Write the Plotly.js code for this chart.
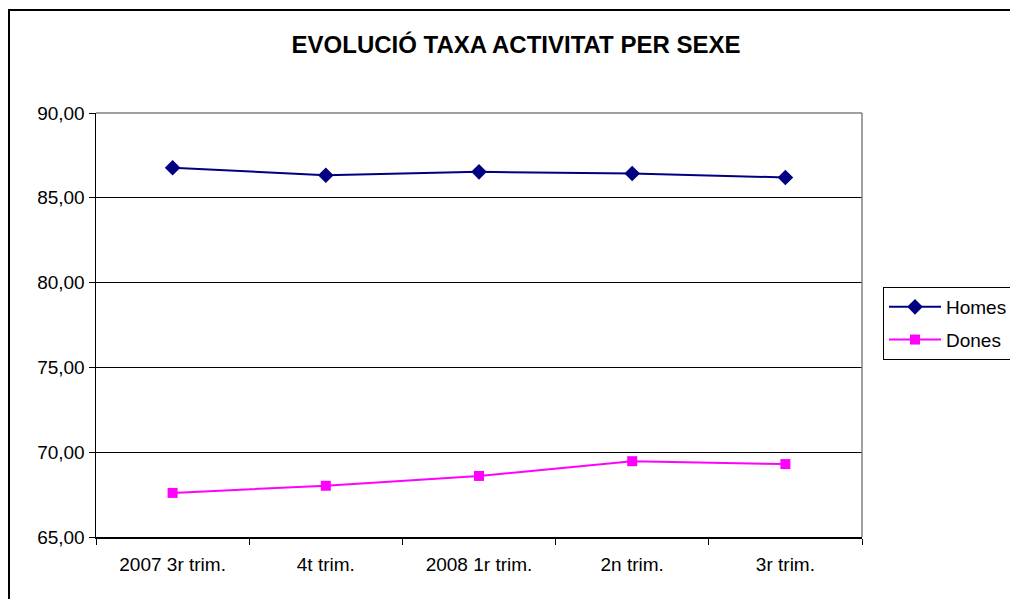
<!DOCTYPE html>
<html><head><meta charset="utf-8">
<script src="https://cdn.plot.ly/plotly-3.0.1.min.js"></script>
<style>html,body{margin:0;padding:0;background:#fff}#c{width:1010px;height:599px}</style>
</head><body><div id="c"></div>
<script>
const categories = ["2007 3r trim.", "4t trim.", "2008 1r trim.", "2n trim.", "3r trim."];
const homes = [86.77, 86.33, 86.53, 86.43, 86.20];
const dones = [67.60, 68.02, 68.60, 69.47, 69.30];
const yTicks = [65, 70, 75, 80, 85, 90];

const F = "Liberation Sans, Arial, sans-serif";
const traces = [
  {x: categories, y: homes, name: "Homes", legendgroup: "h", type: "scatter", mode: "lines+markers",
   line: {color: "#000080", width: 2}, marker: {symbol: "diamond", size: 12, color: "#000080"}},
  {x: categories, y: dones, name: "Dones", legendgroup: "d", type: "scatter", mode: "lines+markers",
   line: {color: "#FF00FF", width: 2}, marker: {symbol: "square", size: 10, color: "#FF00FF"}}
];
const L = 96, R = 862, T = 113, B = 537;
const W = R - L, H = B - T;
const px = v => (v - L) / W, py = v => (B - v) / H;
const layout = {
  width: 1010, height: 599,
  margin: {l: L, r: 1010 - R, t: T, b: 599 - B, autoexpand: false},
  paper_bgcolor: "#fff", plot_bgcolor: "#fff",
  separators: ",.",
  font: {family: F, size: 19, color: "#000"},
  title: {text: "<b>EVOLUCIÓ TAXA ACTIVITAT PER SEXE</b>", font: {family: F, size: 24, color: "#000"},
          x: px(516), xref: "paper", xanchor: "center", y: 1 - 45 / 599, yanchor: "middle"},
  xaxis: {type: "category", range: [-0.5, 4.5], tickson: "boundaries", ticks: "outside", ticklen: 6, tickcolor: "#000",
          showgrid: false, showline: true, linecolor: "#000", linewidth: 1.5, zeroline: false,
          ticklabelstandoff: 10,
          tickfont: {family: F, size: 19, color: "#000"}, fixedrange: true},
  yaxis: {range: [65, 90], tickvals: yTicks, tickformat: ".2f", ticks: "outside", ticklen: 6, tickcolor: "#000",
          showgrid: true, gridcolor: "#000", gridwidth: 1, showline: true, linecolor: "#000", linewidth: 1.5,
          zeroline: false, tickfont: {family: F, size: 19, color: "#000"}, fixedrange: true},
  showlegend: true,
  legend: {x: px(883), y: py(287), xanchor: "left", yanchor: "top", bordercolor: "#000", borderwidth: 1,
           font: {family: F, size: 19, color: "#000"}, bgcolor: "#fff", tracegroupgap: 5, itemwidth: 52,
           traceorder: "grouped"},
  shapes: [
    {type: "line", xref: "paper", yref: "paper", x0: 0, x1: 1, y0: 1, y1: 1, line: {color: "#808080", width: 1.5}},
    {type: "line", xref: "paper", yref: "paper", x0: 1, x1: 1, y0: 0, y1: 1, line: {color: "#808080", width: 1.5}},
    {type: "rect", xref: "paper", yref: "paper", x0: px(9), x1: px(1015), y0: py(604), y1: py(10),
     line: {color: "#000", width: 2}}
  ]
};
Plotly.newPlot("c", traces, layout, {displayModeBar: false, staticPlot: true});
</script></body></html>
